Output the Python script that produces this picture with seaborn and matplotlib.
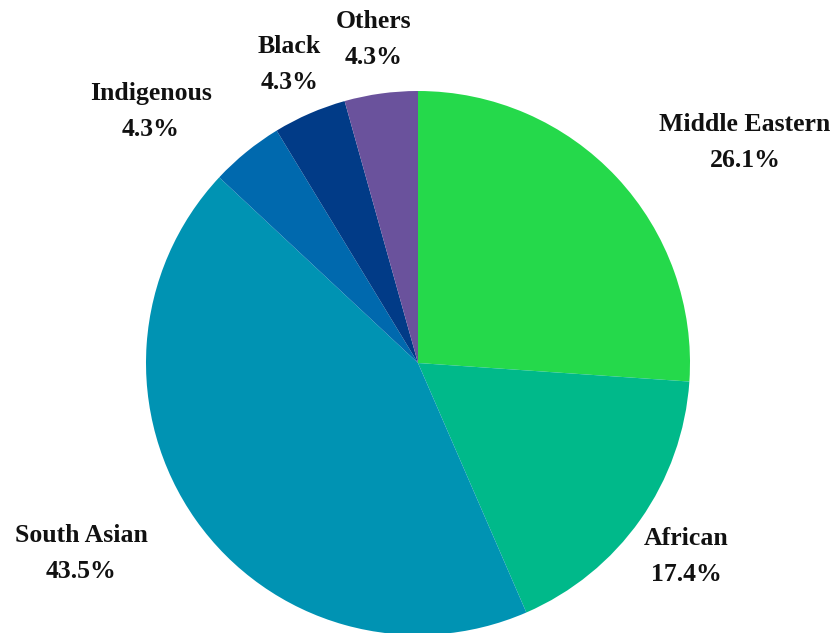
import matplotlib
matplotlib.use("Agg")
import matplotlib.pyplot as plt
import seaborn as sns

# Share of respondents by ethnic background
groups = ["Middle Eastern", "African", "South Asian", "Indigenous", "Black", "Others"]
counts = [6, 4, 10, 1, 1, 1]
colors = ["#25d94b", "#00b98a", "#0093b3", "#0069ae", "#013b87", "#6a529c"]

# Label centres (axis units, pie radius = 1)
label_x = [1.202, 0.985, -1.239, -0.982, -0.474, -0.162]
label_y = [0.812, -0.710, -0.702, 0.926, 1.099, 1.188]

sns.set_theme(style="white")
plt.rcParams["font.family"] = ["Liberation Serif", "DejaVu Serif"]

W, H = 837, 633
fig = plt.figure(figsize=(W / 100, H / 100), dpi=100)
cx, cy, r = 418, 363, 272
ax = fig.add_axes([(cx - r) / W, (H - cy - r) / H, 2 * r / W, 2 * r / H])

total = sum(counts)
wedges, _ = ax.pie(counts, colors=colors, startangle=90, counterclock=False,
                   radius=1, center=(0, 0), wedgeprops=dict(linewidth=0))
ax.set_xlim(-1, 1)
ax.set_ylim(-1, 1)
ax.set_aspect("equal")
ax.axis("off")

for name, n, x, y in zip(groups, counts, label_x, label_y):
    pct = 100 * n / total
    ax.text(x, y, f"{name}\n{pct:.1f}%", ha="center", va="center",
            fontsize=18.5, fontweight="bold", color="#111111",
            linespacing=1.72, clip_on=False)

fig.savefig("out.png", dpi=100)
